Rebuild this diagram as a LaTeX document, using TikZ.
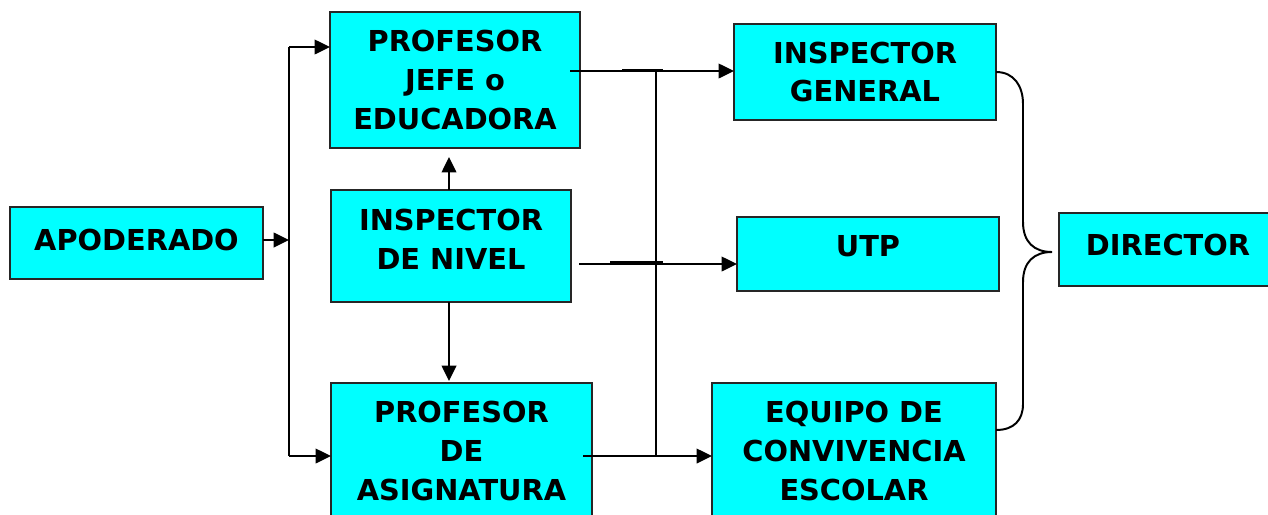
\documentclass[tikz,border=0pt]{standalone}
\usepackage{fontspec}
\setmainfont{DejaVu Sans}
\usetikzlibrary{positioning, arrows.meta, calc}

\definecolor{boxcyan}{RGB}{0,255,255}

\tikzset{
    unit/.style={draw=black!85, line width=1.4pt, fill=boxcyan, inner sep=0pt, outer sep=0pt,
        align=center, font=\bfseries\fontsize{20.5}{27.7}\selectfont},
    link/.style={line width=1.2pt},
    arr/.style={link, -{Triangle[length=11pt, width=10.5pt]}},
    crossbar/.style={line width=2pt}
}

\begin{document}
\begin{tikzpicture}[x=0.025cm, y=-0.025cm]
        \clip (0,0) rectangle (1268,514);
        \fill[white] (0,0) rectangle (1268,514);

        % left column
        \node[unit, minimum width=6.325cm, minimum height=1.8cm, text depth=5pt] (apod) at (136.5,243) {APODERADO};
        \node[unit, minimum width=6.25cm, minimum height=3.4cm] (jefe) at (455,80) {PROFESOR\\JEFE o\\EDUCADORA};
        \node[unit, minimum width=6cm, minimum height=2.8cm, text depth=9pt] (insp) at (451,246) {INSPECTOR\\DE NIVEL};
        \node[unit, minimum width=6.525cm, minimum height=3.4cm] (asig) at (461.5,451) {PROFESOR\\DE\\ASIGNATURA};

        % right column
        \node[unit, minimum width=6.55cm, minimum height=2.4cm] (igen) at (865,72) {INSPECTOR\\GENERAL};
        \node[unit, minimum width=6.55cm, minimum height=1.85cm, text depth=11pt] (utp) at (868,254) {UTP};
        \node[unit, minimum width=7.1cm, minimum height=3.4cm] (equipo) at (854,451) {EQUIPO DE\\CONVIVENCIA\\ESCOLAR};
        \node[unit, minimum width=5.45cm, minimum height=1.825cm, text depth=6pt] (director) at (1168,249.5) {DIRECTOR};

        % left bus
        \coordinate (lsplit) at (289,240);
        \coordinate (lbustop) at (289,47);
        \coordinate (lbusbot) at (289,456);
        \draw[arr] (apod.east |- lsplit) -- (lsplit);
        \draw[link] (lbustop) -- (lbusbot);
        \draw[arr] (lbustop) -- (lbustop -| jefe.west);
        \draw[arr] (lbusbot) -- (lbusbot -| asig.west);

        % inspector de nivel
        \draw[arr] (insp.north -| 449,0) -- ($(jefe.south -| 449,0)+(0,9)$);
        \draw[arr] (insp.south -| 449,0) -- ($(asig.north -| 449,0)+(0,-2)$);

        % right bus
        \coordinate (rbustop) at (656,71);
        \coordinate (rbusmid) at (656,264);
        \coordinate (rbusbot) at (656,456);
        \draw[link] (rbustop) -- (rbusbot);
        \draw[arr] ($(jefe.east |- rbustop)+(-10,0)$) -- (igen.west |- rbustop);
        \draw[arr] ($(insp.east |- rbusmid)+(8,0)$) -- (utp.west |- rbusmid);
        \draw[arr] ($(asig.east |- rbusbot)+(-9,0)$) -- (equipo.west |- rbusbot);
        \draw[crossbar] ($(rbustop)+(-34,-1)$) -- ($(rbustop)+(7,-1)$);
        \draw[crossbar] ($(rbusmid)+(-46,-1.5)$) -- ($(rbusmid)+(7,-1.5)$);
        \draw[crossbar] ($(rbusbot)+(-47,0)$) -- ($(rbusbot)+(7,0)$);

        % brace to director
        \coordinate (bracetip) at ($(director.west)+(-7,2.5)$);
        \draw[link, line width=1.4pt] (igen.east) .. controls (1014,72) and (1023,86) .. (1023,104)
            -- (1023,222) .. controls (1023,242) and (1034,252) .. (bracetip)
            .. controls (1034,252) and (1023,262) .. (1023,282)
            -- (1023,404) .. controls (1023,420) and (1014,430) .. ($(equipo.east)+(0,-21)$);

    \end{tikzpicture}
\end{document}
